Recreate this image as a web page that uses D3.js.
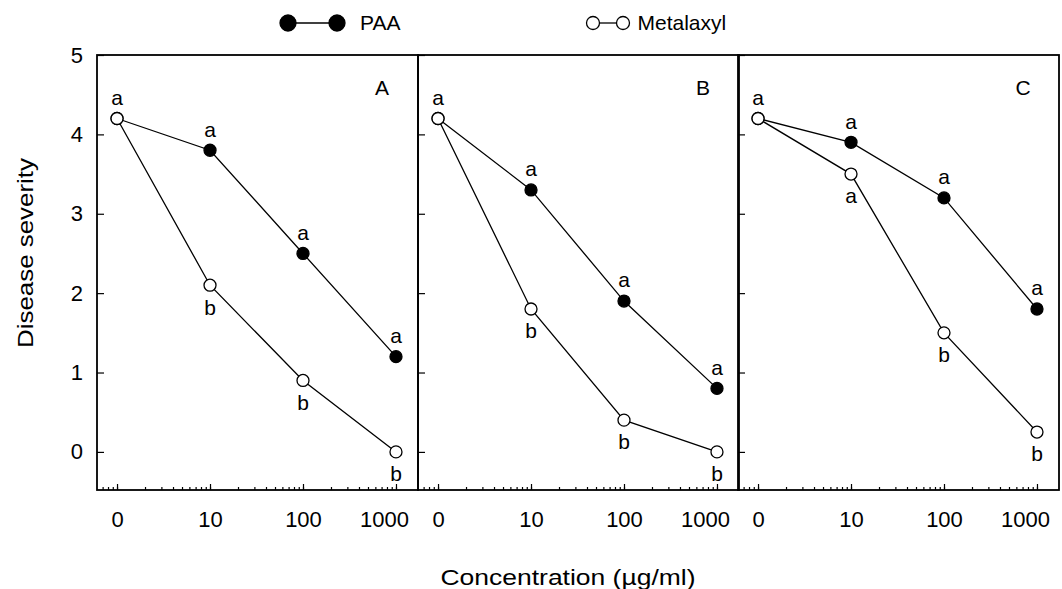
<!DOCTYPE html>
<html>
<head>
<meta charset="utf-8">
<script src="https://cdn.jsdelivr.net/npm/d3@7"></script>
<style>
  body { margin: 0; background: #fff; }
  svg text { font-family: "Liberation Sans", Arial, sans-serif; fill: #000; }
</style>
</head>
<body>
<svg id="chart" width="1062" height="589"></svg>
<script>
/* data */
var concentrations = [1, 10, 100, 1000];          // "0" plotted at 1 on the log axis
var concLabels = ["0", "10", "100", "1000"];
var panels = ["A", "B", "C"];
var paa = [
  [4.2, 3.8, 2.5, 1.2],
  [4.2, 3.3, 1.9, 0.8],
  [4.2, 3.9, 3.2, 1.8]
];
var metalaxyl = [
  [4.2, 2.1, 0.9, 0.0],
  [4.2, 1.8, 0.4, 0.0],
  [4.2, 3.5, 1.5, 0.25]
];
var paaLetters = [
  ["a", "a", "a", "a"],
  ["a", "a", "a", "a"],
  ["a", "a", "a", "a"]
];
var metLetters = [
  ["", "b", "b", "b"],
  ["", "b", "b", "b"],
  ["", "a", "b", "b"]
];
var yTicks = [0, 1, 2, 3, 4, 5];

/* layout */
var svg = d3.select("#chart");
var plotTop = 55, plotBottom = 490,
    panelX = [97, 418, 738], panelW = 321;

var yScale = d3.scaleLinear().domain([-0.48, 5]).range([plotBottom, plotTop]);

panels.forEach(function(name, i) {
  var x0 = panelX[i];
  var xScale = d3.scaleLog().domain([0.609, 1725]).range([x0, x0 + panelW]);
  var g = svg.append("g").attr("class", "panel-" + name);

  // minor log ticks
  g.append("g")
      .attr("transform", "translate(0," + plotBottom + ")")
      .call(d3.axisBottom(xScale).tickValues(xScale.ticks()).tickSize(-3).tickFormat(""))
      .call(function(s){ s.select(".domain").remove(); });

  // major ticks + labels
  var xa = g.append("g")
      .attr("transform", "translate(0," + plotBottom + ")")
      .call(d3.axisBottom(xScale).tickValues(concentrations).tickSize(-6).tickPadding(29)
        .tickFormat(function(d, j){ return concLabels[j]; }));
  xa.select(".domain").remove();
  xa.selectAll("text").style("font-size", "22px")
      .attr("dy", "0.35em")
      .attr("dx", function(d){ return d === 1000 ? -12 : 0; });

  // y ticks (inward), labels on first panel only
  var ya = g.append("g")
      .attr("transform", "translate(" + x0 + ",0)")
      .call(d3.axisLeft(yScale).tickValues(yTicks).tickSize(-7).tickPadding(14)
        .tickFormat(i === 0 ? d3.format("d") : ""));
  ya.select(".domain").remove();
  ya.selectAll("text").style("font-size", "22px");
  g.selectAll(".tick line").attr("stroke", "#000").attr("stroke-width", 1.2);

  // frame
  g.append("rect")
      .attr("x", x0).attr("y", plotTop)
      .attr("width", panelW).attr("height", plotBottom - plotTop)
      .attr("fill", "none").attr("stroke", "#000").attr("stroke-width", 1.8);

  var line = d3.line()
      .x(function(d, j){ return xScale(concentrations[j]); })
      .y(function(d){ return yScale(d); });

  [[paa[i], "#000", paaLetters[i], -21], [metalaxyl[i], "#fff", metLetters[i], 22]].forEach(function(s) {
    g.append("path").datum(s[0])
        .attr("d", line).attr("fill", "none")
        .attr("stroke", "#000").attr("stroke-width", 1.3);
    g.selectAll(null).data(s[0]).enter().append("circle")
        .attr("cx", function(d, j){ return xScale(concentrations[j]); })
        .attr("cy", function(d){ return yScale(d); })
        .attr("r", 6)
        .attr("fill", s[1]).attr("stroke", "#000").attr("stroke-width", 1.3);
    g.selectAll(null).data(s[0]).enter().append("text")
        .attr("x", function(d, j){ return xScale(concentrations[j]); })
        .attr("y", function(d){ return yScale(d) + s[3]; })
        .attr("dy", "0.35em")
        .attr("text-anchor", "middle")
        .style("font-size", "21px")
        .text(function(d, j){ return s[2][j]; });
  });

  g.append("text")
      .attr("x", x0 + panelW - 36).attr("y", 88)
      .attr("text-anchor", "middle").attr("dy", "0.35em")
      .style("font-size", "21px")
      .text(name);
});

/* legend */
var legend = svg.append("g");
[["PAA", "#000", 288, 337, 8, 15], ["Metalaxyl", "#fff", 593, 623, 6.5, 8]].forEach(function(l) {
  legend.append("line")
      .attr("x1", l[2]).attr("x2", l[3]).attr("y1", 23).attr("y2", 23)
      .attr("stroke", "#000").attr("stroke-width", 1.3);
  [l[2], l[3]].forEach(function(cx) {
    legend.append("circle").attr("cx", cx).attr("cy", 23).attr("r", l[4])
        .attr("fill", l[1]).attr("stroke", "#000").attr("stroke-width", 1.3);
  });
  legend.append("text")
      .attr("x", l[3] + l[4] + l[5]).attr("y", 23).attr("dy", "0.35em")
      .style("font-size", "21px")
      .text(l[0]);
});

/* axis titles */
svg.append("text")
    .attr("x", 568).attr("y", 577).attr("dy", "0.35em")
    .attr("text-anchor", "middle").style("font-size", "22px")
    .attr("textLength", 255).attr("lengthAdjust", "spacingAndGlyphs")
    .text("Concentration (µg/ml)");

svg.append("text")
    .attr("transform", "translate(25,253) rotate(-90)")
    .attr("dy", "0.35em")
    .attr("text-anchor", "middle").style("font-size", "22px")
    .attr("textLength", 190).attr("lengthAdjust", "spacingAndGlyphs")
    .text("Disease severity");
</script>
</body>
</html>
